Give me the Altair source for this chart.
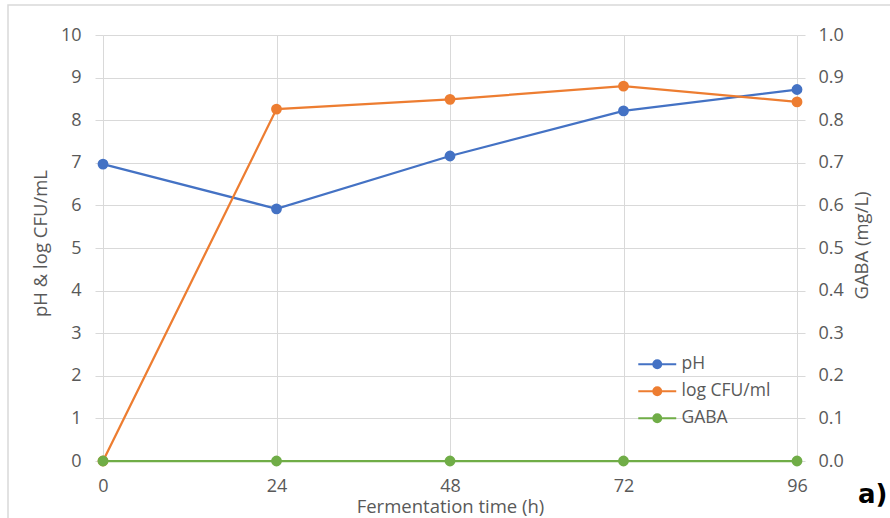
import altair as alt
import pandas as pd

time_h = [0, 24, 48, 72, 96]
ph = [6.97, 5.92, 7.16, 8.22, 8.72]
log_cfu = [0.0, 8.26, 8.49, 8.80, 8.43]
gaba = [0.0, 0.0, 0.0, 0.0, 0.0]
series_names = ["pH", "log CFU/ml", "GABA"]
series_colors = ["#4472C4", "#ED7D31", "#70AD47"]
left_ticks = list(range(0, 11))
right_ticks = [round(i * 0.1, 1) for i in range(0, 11)]

df_ph = pd.DataFrame({"t": time_h, "v": ph, "series": series_names[0]})
df_cfu = pd.DataFrame({"t": time_h, "v": log_cfu, "series": series_names[1]})
df_gaba = pd.DataFrame({"t": time_h, "v": gaba, "series": series_names[2]})

FONT = "Open Sans"
TXT = "#595959"
GRID = "#d9d9d9"
TICK_FS = 18

sc = alt.Scale(domain=series_names, range=series_colors)
# line segment plus a dot (concentric rings so it reads as filled either way)
leg_path = (
    "M-1.1,0L1.1,0"
    "M-0.23,0A0.23,0.23,0,1,1,0.23,0A0.23,0.23,0,1,1,-0.23,0Z"
    "M-0.12,0A0.12,0.12,0,1,1,0.12,0A0.12,0.12,0,1,1,-0.12,0Z"
    "M-0.03,0A0.03,0.03,0,1,1,0.03,0A0.03,0.03,0,1,1,-0.03,0Z"
)
legend = alt.Legend(
    orient="none", legendX=535.75, legendY=310.75, title=None,
    symbolType=leg_path, symbolSize=1190, symbolStrokeWidth=2, symbolOpacity=1,
    labelFont=FONT, labelFontSize=17.5, labelColor=TXT, labelOffset=5.75,
    padding=0, rowPadding=0,
)

x_enc = alt.X(
    "t:Q",
    scale=alt.Scale(domain=[0, 96], nice=False),
    axis=alt.Axis(
        values=time_h, title="Fermentation time (h)", grid=True, gridColor=GRID,
        ticks=False, domain=False, labelPadding=16, labelFlush=False,
        labelFont=FONT, labelFontSize=TICK_FS, labelColor=TXT,
        titleFont=FONT, titleFontSize=18.5, titleFontWeight="normal",
        titleColor=TXT, titleX=347, titleY=45, titleBaseline="middle",
    ),
)

y_left = alt.Y(
    "v:Q",
    scale=alt.Scale(domain=[0, 10], nice=False),
    axis=alt.Axis(
        values=left_ticks, title="pH & log CFU/mL", grid=True, gridColor=GRID,
        tickColor=GRID, tickSize=8, domain=False, labelPadding=14,
        labelFont=FONT, labelFontSize=TICK_FS, labelColor=TXT,
        titleFont=FONT, titleFontSize=18.5, titleFontWeight="normal", titleColor=TXT,
        titleX=-63, titleY=208, titleBaseline="middle", titleAngle=270,
    ),
)

y_right = alt.Y(
    "v:Q",
    scale=alt.Scale(domain=[0, 1], nice=False),
    axis=alt.Axis(
        values=right_ticks, format=".1f", orient="right", title="GABA (mg/L)",
        grid=False, tickColor=GRID, tickSize=8, domain=False, labelPadding=13,
        labelFont=FONT, labelFontSize=TICK_FS, labelColor=TXT,
        titleFont=FONT, titleFontSize=18.5, titleFontWeight="normal", titleColor=TXT,
        titleX=64, titleY=210, titleBaseline="middle", titleAngle=270,
    ),
)


def series_layers(df, y_enc):
    line = alt.Chart(df).mark_line(strokeWidth=2.25).encode(
        x=x_enc, y=y_enc,
        stroke=alt.Stroke("series:N", scale=sc, legend=legend),
    )
    pts = alt.Chart(df).mark_point(filled=True, size=78, opacity=1).encode(
        x=x_enc, y=y_enc,
        fill=alt.Fill("series:N", scale=sc, legend=legend),
        stroke=alt.Stroke("series:N", scale=sc, legend=legend),
    )
    return [line, pts]


frame = alt.Chart(pd.DataFrame({"k": [0]})).mark_rect(
    fill=None, stroke=GRID, strokeWidth=1.5
).encode(
    x=alt.value(-95), x2=alt.value(900), y=alt.value(-30), y2=alt.value(600)
)

label_a = alt.Chart(pd.DataFrame({"lab": ["a)"]})).mark_text(
    font="DejaVu Sans", fontSize=26, fontWeight="bold", color="#000000",
    align="left", baseline="alphabetic",
).encode(x=alt.value(755), y=alt.value(468), text="lab:N")

left = alt.layer(
    frame, *series_layers(df_ph, y_left), *series_layers(df_cfu, y_left), label_a
)
right = alt.layer(*series_layers(df_gaba, y_right))

chart = (
    alt.layer(left, right)
    .resolve_scale(y="independent")
    .properties(
        width=694, height=426,
        autosize=alt.AutoSizeParams(type="none"),
        padding={"left": 103, "top": 35, "right": 93, "bottom": 57},
        background="white",
    )
    .configure_view(stroke=None)
)

chart.save("out.html", embed_options={"renderer": "svg", "actions": False})
